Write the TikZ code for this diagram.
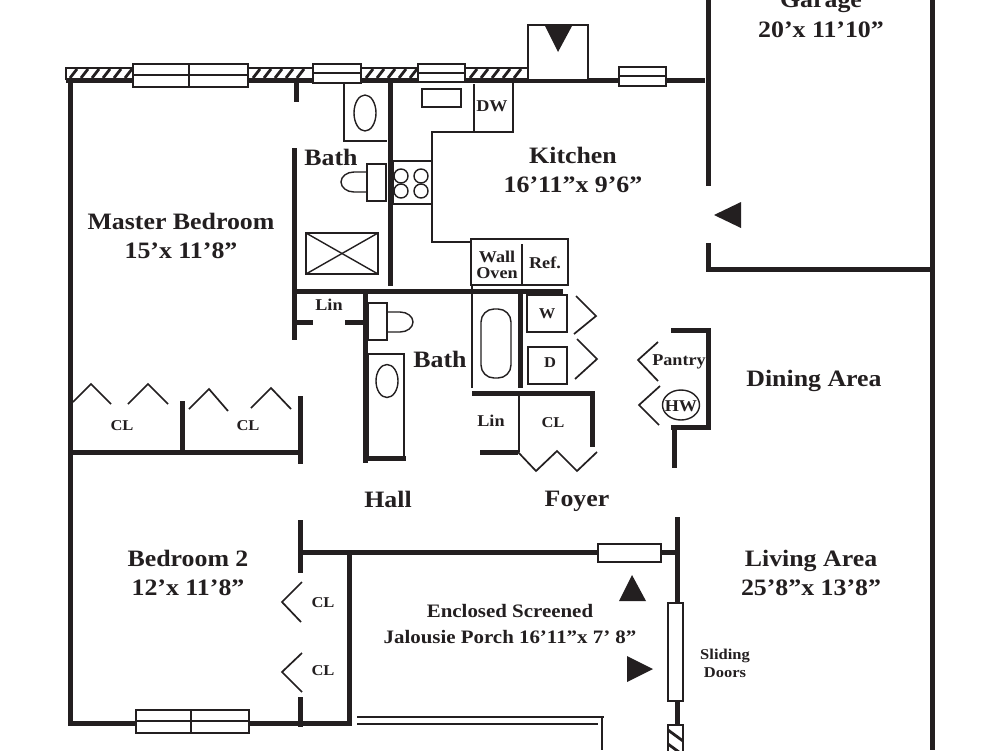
\documentclass[tikz,border=0pt]{standalone}
\usepackage{fontspec}
\setmainfont{Liberation Serif}[FakeStretch=1.1]
\definecolor{ink}{HTML}{231F20}
\tikzset{
  wall/.style={draw=ink,line width=5pt},
  fixture/.style={draw=ink,line width=1.4pt},
  door/.style={draw=ink,line width=1.7pt},
  pane/.style={draw=ink,line width=1.4pt,fill=white},
  hatch/.style={draw=ink,line width=2.8pt},
  arrowmark/.style={fill=ink,draw=none},
  room/.style={inner sep=0pt,align=center,text=ink,font=\fontsize{23.5}{29.5}\selectfont\bfseries},
  mid/.style={inner sep=0pt,align=center,text=ink,font=\fontsize{19}{26}\selectfont\bfseries},
  tag/.style={inner sep=0pt,align=center,text=ink,font=\fontsize{16.5}{16}\selectfont\bfseries},
  small/.style={inner sep=0pt,align=center,text=ink,font=\fontsize{15}{18}\selectfont\bfseries},
}
\begin{document}
\begin{tikzpicture}[x=1pt,y=-1pt]
\useasboundingbox (0,0) rectangle (1000,750);
\clip (0,0) rectangle (1000,750);
\fill[white] (0,0) rectangle (1000,750);
% top wall with hatching
\draw[fixture] (66,80) -- (66,68) -- (527,68);
\foreach \x in {70,81,...,125,253,264,...,303,366,377,...,410,470,481,...,520}
  \draw[hatch] (\x,78) -- (\x+7,69);
\draw[wall] (66,80) -- (705,80);
% outer walls
\draw[wall] (70,80) -- (70,723) -- (349,723) -- (349,552);
\draw[wall] (708,0) -- (708,186);
\draw[wall] (708,243) -- (708,269) -- (932,269);
\draw[wall] (932,0) -- (932,750);
\draw[wall] (677,517) -- (677,725);
% master bedroom and its bath
\draw[wall] (296,82) -- (296,102);
\draw[wall] (294,148) -- (294,340);
\draw[wall] (390,80) -- (390,286);
\draw[wall] (294,291) -- (563,291);
\draw[wall] (294,322) -- (313,322);
\draw[wall] (345,322) -- (365,322);
\draw[wall] (365,291) -- (365,463);
\draw[wall] (365,458) -- (406,458);
% closets
\draw[wall] (70,452) -- (300,452);
\draw[wall] (182,401) -- (182,452);
\draw[wall] (300,396) -- (300,464);
\draw[wall] (300,520) -- (300,573);
\draw[wall] (300,697) -- (300,727);
\draw[wall] (300,552) -- (677,552);
% laundry, linen, pantry
\draw[wall] (520,291) -- (520,388);
\draw[wall] (472,393) -- (592,393) -- (592,447);
\draw[wall] (480,452) -- (518,452);
\draw[wall] (671,330) -- (708,330) -- (708,427) -- (671,427);
\draw[wall] (674,430) -- (674,468);
\draw[door] (519,393) -- (519,452);
% door leaves
\draw[door] (73,402) -- (91,384) -- (111,404);
\draw[door] (128,404) -- (148,384) -- (168,404);
\draw[door] (189,409) -- (209,389) -- (228,411);
\draw[door] (251,408) -- (271,388) -- (291,409);
\draw[door] (302,582) -- (282,602) -- (301,622);
\draw[door] (302,653) -- (282,672) -- (302,692);
\draw[door] (518,452) -- (536,471) -- (557,451) -- (577,471) -- (597,452);
\draw[door] (576,296) -- (596,316) -- (574,334);
\draw[door] (577,339) -- (597,359) -- (575,379);
\draw[door] (658,342) -- (638,360) -- (658,381);
\draw[door] (660,386) -- (639,405) -- (659,425);
% windows
\draw[pane] (133,64) rectangle (248,87);
\draw[fixture] (133,75) -- (248,75);
\draw[fixture] (189,64) -- (189,87);
\draw[pane] (313,64) rectangle (361,83);
\draw[fixture] (313,73) -- (361,73);
\draw[pane] (418,64) rectangle (465,82);
\draw[fixture] (418,73) -- (465,73);
\draw[pane] (619,67) rectangle (666,86);
\draw[fixture] (619,76) -- (666,76);
\draw[pane] (136,710) rectangle (249,733);
\draw[fixture] (136,721) -- (249,721);
\draw[fixture] (191,710) -- (191,733);
\draw[pane] (598,544) rectangle (661,562);
\draw[pane] (668,603) rectangle (683,701);
% chimney box
\draw[pane] (528,25) rectangle (588,80);
\fill[arrowmark] (545,26) -- (572,26) -- (558,52) -- cycle;
% sliding door foot
\draw[pane] (668,725) rectangle (683,760);
\draw[hatch] (668,730) -- (683,741);
\draw[hatch] (668,744) -- (683,755);
% entry arrows
\fill[arrowmark] (714,215) -- (741,202) -- (741,228) -- cycle;
\fill[arrowmark] (632,575) -- (619,601) -- (646,601) -- cycle;
\fill[arrowmark] (627,656) -- (627,682) -- (653,669) -- cycle;
% master bath fixtures
\draw[fixture] (344,82) -- (344,141) -- (387,141);
\draw[fixture] (365,113) ellipse (11 and 18);
\draw[fixture] (367,164) rectangle (386,201);
\draw[fixture] (367,172) -- (354,172) arc (-90:-270:13 and 10) -- (367,192);
\draw[fixture] (306,233) rectangle (378,274);
\draw[fixture] (306,233) -- (378,274);
\draw[fixture] (306,274) -- (378,233);
% kitchen
\draw[fixture] (393,161) rectangle (432,204);
\foreach \x in {401,421} \foreach \y in {176,191}
  \draw[fixture] (\x,\y) circle (7);
\draw[fixture] (432,161) -- (432,132) -- (513,132) -- (513,83);
\draw[fixture] (474,84) -- (474,132);
\draw[fixture] (422,89) rectangle (461,107);
\draw[fixture] (432,204) -- (432,242) -- (471,242);
\draw[fixture] (471,239) rectangle (568,285);
\draw[fixture] (522,244) -- (522,285);
% hall bath fixtures
\draw[fixture] (368,303) rectangle (387,340);
\draw[fixture] (387,312) -- (400,312) arc (-90:90:13 and 10) -- (387,332);
\draw[fixture] (368,354) rectangle (404,457);
\draw[fixture] (387,381) ellipse (11 and 16.5);
\draw[fixture] (472,285) -- (472,388);
\draw[fixture,rounded corners=13pt] (481,309) rectangle (511,378);
\draw[draw=ink,line width=2.2pt] (527,295) rectangle (567,332);
\draw[draw=ink,line width=2.2pt] (528,347) rectangle (567,384);
\draw[fixture] (681,405) ellipse (18.5 and 15);
% porch railing
\draw[fixture] (357,717) -- (604,717);
\draw[fixture] (357,724) -- (598,724);
\draw[fixture] (602,717) -- (602,750);
% labels
\node[room] (garage) at (821,15) {Garage\\20’x 11’10”};
\node[room] (kitchen) at (573,170) {Kitchen\\16’11”x 9’6”};
\node[room] (master) at (181,236) {Master Bedroom\\15’x 11’8”};
\node[room] (bath1) at (331,157) {Bath};
\node[room] (bath2) at (440,359) {Bath};
\node[room] (dining) at (814,381) {Dining Area};
\node[room] (hall) at (388,499) {Hall};
\node[room] (foyer) at (577,501) {Foyer};
\node[room] (living) at (811,573) {Living Area\\25’8”x 13’8”};
\node[room] (bed2) at (188,573) {Bedroom 2\\12’x 11’8”};
\node[mid] (porch) at (510,624) {Enclosed Screened\\Jalousie Porch 16’11”x 7’ 8”};
\node[tag] (dw) at (492,106) {DW};
\node[tag] (oven) at (497,265) {Wall\\Oven};
\node[tag] (ref) at (545,263) {Ref.};
\node[tag] (lin1) at (329,305) {Lin};
\node[tag] (lin2) at (491,421) {Lin};
\node[tag] (pantry) at (679,362) {Pantry};
\node[tag] (hw) at (681,406) {HW};
\node[small] (wash) at (547,314) {W};
\node[small] (dry) at (550,363) {D};
\node[small] (cl1) at (122,426) {CL};
\node[small] (cl2) at (248,426) {CL};
\node[small] (cl3) at (553,423) {CL};
\node[small] (cl4) at (323,603) {CL};
\node[small] (cl5) at (323,671) {CL};
\node[small] (slide) at (725,663) {Sliding\\Doors};
\end{tikzpicture}
\end{document}
